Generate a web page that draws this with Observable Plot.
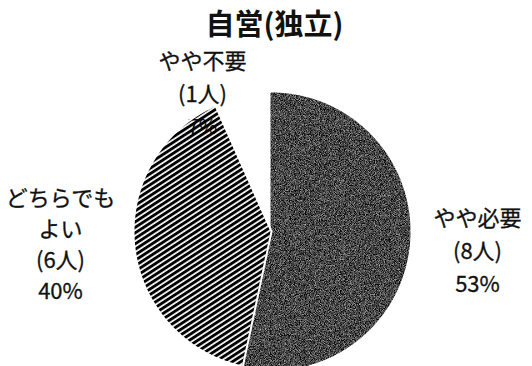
<!DOCTYPE html>
<html>
<head>
<meta charset="utf-8">
<script src="https://cdn.jsdelivr.net/npm/d3@7"></script>
<script src="https://cdn.jsdelivr.net/npm/@observablehq/plot@0.6"></script>
<style>
  html, body { margin: 0; padding: 0; background: #fff; }
  #chart { width: 532px; height: 366px; overflow: hidden; }
</style>
</head>
<body>
<div id="chart"></div>
<script>
// ---- data ----
const title = "自営(独立)";
const categories = ["やや必要", "どちらでもよい", "やや不要"];
const counts = [8, 6, 1];
const percents = ["53%", "40%", "7%"];
const labelNameLines = [["やや必要"], ["どちらでも", "よい"], ["やや不要"]];

// ---- layout ----
const W = 532, H = 366;
const cx = 271, cy = 231, r = 138;
const fills = ["#444", "url(#hatch)", "#fff"];
const labelAnchor = [[477, 218, 33], [60, 198, 31], [202, 61, 33]];

const arcs = d3.pie().sort(null).value(d => d).startAngle(0).endAngle(2 * Math.PI)(counts);

function slicePoints(a, i) {
  const pts = [{cat: categories[i], x: cx, y: cy}];
  const n = Math.max(2, Math.ceil((a.endAngle - a.startAngle) / (Math.PI / 360)));
  for (let k = 0; k <= n; k++) {
    const t = a.startAngle + (a.endAngle - a.startAngle) * k / n;
    pts.push({cat: categories[i], x: cx + r * Math.sin(t), y: cy - r * Math.cos(t)});
  }
  pts.push({cat: categories[i], x: cx, y: cy});
  return pts;
}
const slices = arcs.map((a, i) => slicePoints(a, i));

// label rows
const labelRows = [];
categories.forEach((c, i) => {
  const [lx, ly, lh] = labelAnchor[i];
  const lines = [...labelNameLines[i], `(${counts[i]}人)`, percents[i]];
  lines.forEach((t, j) => labelRows.push({cat: c, text: t, x: lx, y: ly + j * lh, isPct: j === lines.length - 1}));
});
const underRows = labelRows.filter(d => d.cat === "やや不要" && d.isPct);
const overRows = labelRows.filter(d => !(d.cat === "やや不要" && d.isPct));

const font = "'Noto Sans CJK JP', 'Noto Sans', sans-serif";

const plot = Plot.plot({
  width: W, height: H,
  margin: 0,
  x: {domain: [0, W], range: [0, W], axis: null},
  y: {domain: [0, H], range: [0, H], axis: null},
  style: {background: "#fff"},
  marks: [
    Plot.line(slices[2], {x: "x", y: "y", fill: fills[2], stroke: "none"}),
    Plot.line(slices[0], {x: "x", y: "y", fill: fills[0], stroke: "#fff", strokeWidth: 2, className: "stipple"}),
    Plot.text(underRows, {x: "x", y: "y", text: "text", fontSize: 20, fill: "#111", fontFamily: font}),
    Plot.line(slices[1], {x: "x", y: "y", fill: fills[1], stroke: "#fff", strokeWidth: 2}),
    Plot.text(overRows, {x: "x", y: "y", text: "text", fontSize: 22, fill: "#111", fontFamily: font, stroke: "#111", strokeWidth: 0.3}),
    Plot.text([title], {x: () => 274, y: () => 25, text: d => d, fontSize: 29, fontWeight: "bold", fill: "#111", fontFamily: font})
  ]
});

const svg = d3.select(plot);
const defs = svg.insert("defs", ":first-child");
const hatch = defs.append("pattern")
  .attr("id", "hatch").attr("patternUnits", "userSpaceOnUse")
  .attr("width", 8).attr("height", 4.6)
  .attr("patternTransform", "rotate(-33)");
hatch.append("rect").attr("x", 0).attr("y", 0).attr("width", 8).attr("height", 2.9).attr("fill", "#000");

const filt = defs.append("filter").attr("id", "noise")
  .attr("color-interpolation-filters", "sRGB");
filt.append("feTurbulence").attr("type", "fractalNoise").attr("baseFrequency", 1.2)
  .attr("numOctaves", 1).attr("seed", 4).attr("result", "t");
filt.append("feColorMatrix").attr("in", "t").attr("type", "matrix")
  .attr("values", "1.4 0 0 0 -0.42  1.4 0 0 0 -0.42  1.4 0 0 0 -0.42  0 0 0 0 1").attr("result", "g");
filt.append("feComposite").attr("in", "g").attr("in2", "SourceGraphic").attr("operator", "in");
svg.selectAll(".stipple path").attr("filter", "url(#noise)");

document.getElementById("chart").appendChild(plot);
</script>
</body>
</html>
